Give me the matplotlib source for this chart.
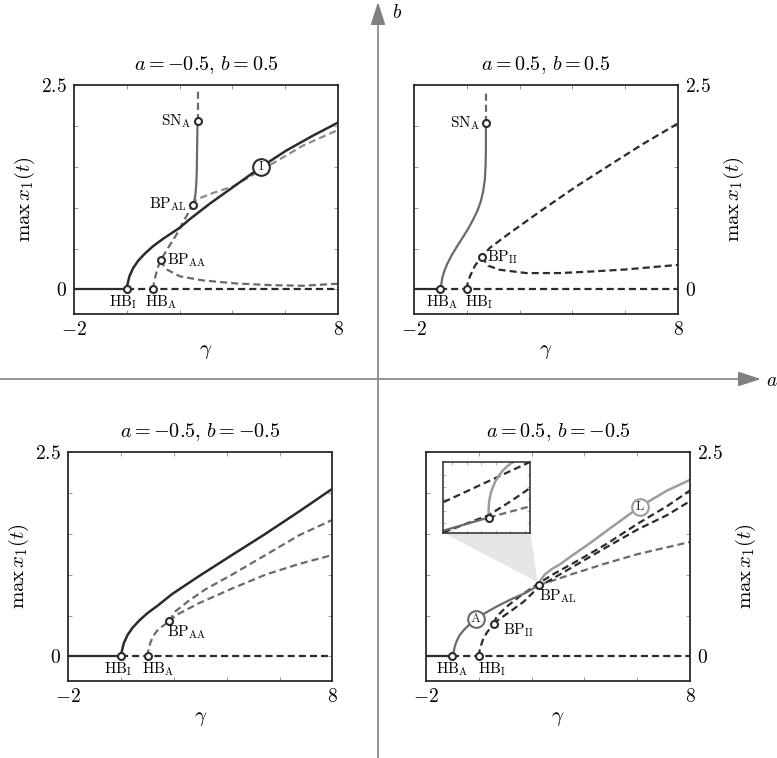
import matplotlib
matplotlib.use("Agg")
import matplotlib.pyplot as plt
from matplotlib.patches import Polygon

plt.rcParams['mathtext.fontset'] = 'cm'
plt.rcParams['font.family'] = 'serif'
plt.rcParams['font.serif'] = ['cmr10', 'DejaVu Serif']
plt.rcParams['axes.unicode_minus'] = False

# ---- data (gamma, max x1) ----
# top left: a=-0.5, b=0.5
tl_eq_solid = [-2.0, 0.0]
tl_eq_dash = [0.0, 8.0]
tl_I_g = [0.0, 0.01, 0.04, 0.10, 0.24, 0.43, 0.69, 1.0, 1.38, 2.01, 2.39, 3.15, 4.15, 5.10, 6.05, 7.05, 8.0]
tl_I_y = [0.0, 0.04, 0.08, 0.16, 0.26, 0.35, 0.44, 0.53, 0.62, 0.755, 0.86, 1.05, 1.28, 1.50, 1.70, 1.88, 2.04]
tl_A_g = [1.0, 1.01, 1.04, 1.10, 1.19, 1.29, 1.57, 1.88, 2.20, 2.49]
tl_A_y = [0.0, 0.04, 0.10, 0.18, 0.28, 0.36, 0.51, 0.67, 0.86, 1.03]
tl_AA_g = [1.29, 1.40, 1.51, 2.01, 2.89, 4.15, 5.41, 6.68, 8.0]
tl_AA_y = [0.36, 0.29, 0.245, 0.16, 0.11, 0.073, 0.053, 0.045, 0.07]
tl_As_g = [2.49, 2.55, 2.60, 2.63, 2.65, 2.66, 2.67, 2.68]
tl_As_y = [1.03, 1.08, 1.16, 1.28, 1.43, 1.63, 1.84, 2.06]
tl_Atop_g = [2.68, 2.68]
tl_Atop_y = [2.06, 2.45]
tl_L_g = [2.49, 2.64, 3.27, 4.03, 5.10, 6.68, 8.0]
tl_L_y = [1.03, 1.10, 1.18, 1.26, 1.46, 1.76, 1.95]
tl_pts = {'HB_I': (0.0, 0.0), 'HB_A': (1.0, 0.0), 'BP_AA': (1.29, 0.36),
          'BP_AL': (2.49, 1.03), 'SN_A': (2.68, 2.06)}

# top right: a=0.5, b=0.5
tr_eq_solid = [-2.0, -1.0]
tr_eq_dash = [-1.0, 8.0]
tr_A_g = [-1.0, -0.966, -0.928, -0.852, -0.739, -0.575, -0.386, -0.159, 0.055, 0.245,
          0.409, 0.535, 0.623, 0.686, 0.711, 0.724, 0.724, 0.724]
tr_A_y = [0.0, 0.061, 0.143, 0.224, 0.314, 0.416, 0.518, 0.633, 0.743, 0.857,
          0.967, 1.082, 1.204, 1.347, 1.51, 1.714, 1.918, 2.033]
tr_Atop_g = [0.724, 0.724]
tr_Atop_y = [2.033, 2.43]
tr_I_g = [0.0, 0.01, 0.04, 0.12, 0.31, 0.56, 0.88, 1.63, 2.89, 4.15, 5.41, 6.68, 8.0]
tr_I_y = [0.0, 0.04, 0.08, 0.16, 0.29, 0.40, 0.51, 0.69, 0.98, 1.26, 1.52, 1.78, 2.03]
tr_II_g = [0.56, 0.81, 1.25, 2.26, 3.52, 4.78, 6.05, 8.0]
tr_II_y = [0.40, 0.29, 0.24, 0.20, 0.20, 0.22, 0.245, 0.30]
tr_pts = {'HB_A': (-1.0, 0.0), 'HB_I': (0.0, 0.0), 'BP_II': (0.56, 0.40), 'SN_A': (0.724, 2.033)}

# bottom left: a=-0.5, b=-0.5
bl_eq_solid = [-2.0, 0.0]
bl_eq_dash = [0.0, 8.0]
bl_I_g = [0.0, 0.01, 0.04, 0.10, 0.24, 0.43, 0.69, 1.0, 1.38, 1.92, 2.94, 4.2, 5.47, 6.73, 8.0]
bl_I_y = [0.0, 0.04, 0.08, 0.16, 0.26, 0.35, 0.44, 0.53, 0.62, 0.76, 0.98, 1.24, 1.50, 1.77, 2.05]
bl_A_g = [1.0, 1.01, 1.04, 1.10, 1.20, 1.35, 1.57, 1.82]
bl_A_y = [0.0, 0.04, 0.09, 0.16, 0.24, 0.31, 0.37, 0.43]
bl_up_g = [1.82, 2.05, 2.56, 3.19, 4.2, 5.47, 6.73, 8.0]
bl_up_y = [0.43, 0.55, 0.68, 0.82, 1.0, 1.24, 1.48, 1.67]
bl_lo_g = [1.82, 2.11, 2.94, 4.2, 5.47, 6.73, 8.0]
bl_lo_y = [0.43, 0.51, 0.65, 0.83, 1.0, 1.13, 1.24]
bl_pts = {'HB_I': (0.0, 0.0), 'HB_A': (1.0, 0.0), 'BP_AA': (1.82, 0.43)}

# bottom right: a=0.5, b=-0.5
br_eq_solid = [-2.0, -1.0]
br_eq_dash = [-1.0, 8.0]
br_A_g = [-1.0, -0.949, -0.911, -0.835, -0.734, -0.582, -0.392, -0.101, 0.241, 0.684, 1.19, 1.76, 2.27]
br_A_y = [0.0, 0.061, 0.122, 0.192, 0.257, 0.318, 0.380, 0.461, 0.531, 0.612, 0.694, 0.776, 0.87]
br_L_g = [2.27, 2.30, 2.35, 2.52, 2.77, 3.09, 3.47, 4.10, 4.86, 6.09, 7.14, 8.0]
br_L_y = [0.87, 0.91, 0.94, 1.01, 1.07, 1.13, 1.22, 1.36, 1.54, 1.83, 2.03, 2.16]
br_Ld_g = [2.27, 3.47, 4.73, 6.0, 8.0]
br_Ld_y = [0.87, 1.0, 1.13, 1.25, 1.40]
br_I_g = [0.0, 0.01, 0.05, 0.15, 0.30, 0.56]
br_I_y = [0.0, 0.04, 0.10, 0.20, 0.29, 0.40]
br_up_g = [0.56, 0.68, 1.06, 1.57, 2.2, 2.84, 3.85, 4.86, 6.0, 7.14, 8.0]
br_up_y = [0.40, 0.49, 0.61, 0.74, 0.88, 1.01, 1.19, 1.38, 1.62, 1.84, 2.03]
br_lo_g = [0.56, 0.75, 1.19, 1.70, 2.27, 2.84, 3.85, 4.86, 6.0, 7.14, 8.0]
br_lo_y = [0.40, 0.45, 0.55, 0.67, 0.85, 0.96, 1.15, 1.34, 1.55, 1.73, 1.90]
br_pts = {'HB_A': (-1.0, 0.0), 'HB_I': (0.0, 0.0), 'BP_II': (0.56, 0.40), 'BP_AL': (2.27, 0.87)}

# inset of bottom right (zoom around BP_AL)
ins_A_g = [2.12, 2.276]
ins_A_y = [0.847, 0.869]
ins_L_g = [2.276, 2.276, 2.278, 2.285, 2.299, 2.322, 2.351, 2.363]
ins_L_y = [0.869, 0.883, 0.897, 0.913, 0.930, 0.947, 0.960, 0.963]
ins_Ld_g = [2.276, 2.42]
ins_Ld_y = [0.869, 0.888]
ins_lo_g = [2.12, 2.201, 2.276, 2.351, 2.42]
ins_lo_y = [0.844, 0.859, 0.873, 0.896, 0.919]
ins_up_g = [2.12, 2.42]
ins_up_y = [0.895, 0.963]

BLACK = '#2b2b2b'
DGRAY = '#6a6a6a'
LGRAY = '#9c9c9c'
AXGRAY = '#808080'
DASH = (0, (3.2, 1.8))
LW = 1.6
PT = 0.72  # points per pixel at dpi 100

fig = plt.figure(figsize=(7.77, 7.58), dpi=100)

# background quadrant axes (pixel coordinates)
bg = fig.add_axes([0, 0, 1, 1], zorder=-1)
bg.set_xlim(0, 777)
bg.set_ylim(758, 0)
bg.axis('off')
ap = dict(arrowstyle='-|>,head_length=1.4,head_width=0.45', color=AXGRAY, lw=1.2,
          shrinkA=0, shrinkB=0)
bg.annotate('', xy=(378, 2), xytext=(378, 758), arrowprops=ap)
bg.annotate('', xy=(761, 379), xytext=(0, 379), arrowprops=ap)
bg.text(392, 13, '$b$', fontsize=14, ha='left', va='center')
bg.text(766, 381, '$a$', fontsize=14, ha='left', va='center')


def setup(ax, title, right=False):
    ax.set_xlim(-2, 8)
    ax.set_ylim(-0.3, 2.5)
    ax.set_xticks([-2, 0, 2, 4, 6, 8])
    ax.set_xticklabels(['$-2$', '', '', '', '', '$8$'], fontsize=14)
    ax.set_yticks([0, 0.5, 1.0, 1.5, 2.0, 2.5])
    ax.set_yticklabels(['$0$', '', '', '', '', '$2.5$'], fontsize=14)
    ax.tick_params(direction='in', length=3, width=0.6, color='#888888',
                   top=True, right=True, left=True, bottom=True, pad=5)
    if right:
        ax.tick_params(labelleft=False, labelright=True)
        ax.yaxis.set_label_position('right')
        ax.set_ylabel(r'$\max\, x_1(t)$', fontsize=15, rotation=90, labelpad=8)
    else:
        ax.set_ylabel(r'$\max\, x_1(t)$', fontsize=15, labelpad=3)
    ax.set_xlabel(r'$\gamma$', fontsize=15, labelpad=3)
    ax.set_title(title, fontsize=14.5, pad=11)
    for s in ax.spines.values():
        s.set_linewidth(1.3)
        s.set_color(BLACK)


def marker(ax, p, color=BLACK):
    ax.plot([p[0]], [p[1]], 'o', ms=5, mfc='white', mec=color, mew=1.5, zorder=6)


def label(ax, p, txt, dx, dy, ha, va):
    # dx, dy in pixels
    ax.annotate(txt, xy=p, xytext=(dx * PT, dy * PT), textcoords='offset points',
                fontsize=11, ha=ha, va=va, zorder=7)


def big(ax, p, txt, color):
    ax.plot([p[0]], [p[1]], 'o', ms=12, mfc='white', mec=color, mew=1.5, zorder=6)
    ax.text(p[0], p[1], txt, fontsize=9.5, ha='center', va='center', color=BLACK, zorder=7)


def name(k):
    a, b = k.split('_')
    return r'$\mathrm{%s}_{\mathrm{%s}}$' % (a, b)


# ---- top left ----
ax = fig.add_axes([0.0952, 0.5858, 0.3398, 0.3021])
setup(ax, r'$a = -0.5,\, b = 0.5$')
ax.plot(tl_eq_solid, [0, 0], color=BLACK, lw=LW)
ax.plot(tl_eq_dash, [0, 0], color=BLACK, lw=LW, ls=DASH)
ax.plot(tl_AA_g, tl_AA_y, color=DGRAY, lw=LW, ls=DASH)
ax.plot(tl_A_g, tl_A_y, color=DGRAY, lw=LW, ls=DASH)
ax.plot(tl_L_g, tl_L_y, color='#8a8a8a', lw=LW, ls=DASH)
ax.plot(tl_As_g, tl_As_y, color=DGRAY, lw=LW)
ax.plot(tl_Atop_g, tl_Atop_y, color=DGRAY, lw=LW, ls=DASH)
ax.plot(tl_I_g, tl_I_y, color=BLACK, lw=LW + 0.2)
for k, p in tl_pts.items():
    marker(ax, p)
big(ax, (5.10, 1.50), r'$\mathrm{I}$', BLACK)
label(ax, tl_pts['SN_A'], name('SN_A'), -6, 0, 'right', 'center')
label(ax, tl_pts['BP_AL'], name('BP_AL'), -6, 1, 'right', 'center')
label(ax, tl_pts['BP_AA'], name('BP_AA'), 6, 0, 'left', 'center')
label(ax, tl_pts['HB_I'], name('HB_I'), -4, -13, 'center', 'center')
label(ax, tl_pts['HB_A'], name('HB_A'), 8, -13, 'center', 'center')

# ---- top right ----
ax = fig.add_axes([0.5328, 0.5858, 0.3398, 0.3021])
setup(ax, r'$a = 0.5,\, b = 0.5$', right=True)
ax.plot(tr_eq_solid, [0, 0], color=BLACK, lw=LW)
ax.plot(tr_eq_dash, [0, 0], color=BLACK, lw=LW, ls=DASH)
ax.plot(tr_II_g, tr_II_y, color=BLACK, lw=LW, ls=DASH)
ax.plot(tr_I_g, tr_I_y, color=BLACK, lw=LW, ls=DASH)
ax.plot(tr_A_g, tr_A_y, color=DGRAY, lw=LW)
ax.plot(tr_Atop_g, tr_Atop_y, color=DGRAY, lw=LW, ls=DASH)
for k, p in tr_pts.items():
    marker(ax, p)
label(ax, tr_pts['SN_A'], name('SN_A'), -6, 0, 'right', 'center')
label(ax, tr_pts['BP_II'], name('BP_II'), 5, 0, 'left', 'center')
label(ax, tr_pts['HB_A'], name('HB_A'), 2, -13, 'center', 'center')
label(ax, tr_pts['HB_I'], name('HB_I'), 12, -13, 'center', 'center')

# ---- bottom left ----
ax = fig.add_axes([0.0879, 0.1016, 0.3398, 0.3021])
setup(ax, r'$a = -0.5,\, b = -0.5$')
ax.plot(bl_eq_solid, [0, 0], color=BLACK, lw=LW)
ax.plot(bl_eq_dash, [0, 0], color=BLACK, lw=LW, ls=DASH)
ax.plot(bl_A_g, bl_A_y, color=DGRAY, lw=LW, ls=DASH)
ax.plot(bl_up_g, bl_up_y, color=DGRAY, lw=LW, ls=DASH)
ax.plot(bl_lo_g, bl_lo_y, color=DGRAY, lw=LW, ls=DASH)
ax.plot(bl_I_g, bl_I_y, color=BLACK, lw=LW + 0.2)
for k, p in bl_pts.items():
    marker(ax, p)
label(ax, bl_pts['BP_AA'], name('BP_AA'), -2, -11, 'left', 'center')
label(ax, bl_pts['HB_I'], name('HB_I'), -3, -13, 'center', 'center')
label(ax, bl_pts['HB_A'], name('HB_A'), 11, -13, 'center', 'center')

# ---- bottom right ----
ax = fig.add_axes([0.5483, 0.1016, 0.3398, 0.3021])
setup(ax, r'$a = 0.5,\, b = -0.5$', right=True)
ax.plot(br_eq_solid, [0, 0], color=BLACK, lw=LW)
ax.plot(br_eq_dash, [0, 0], color=BLACK, lw=LW, ls=DASH)
ax.plot(br_Ld_g, br_Ld_y, color=DGRAY, lw=LW, ls=DASH)
ax.plot(br_I_g, br_I_y, color=BLACK, lw=LW, ls=DASH)
ax.plot(br_lo_g, br_lo_y, color=BLACK, lw=LW, ls=DASH)
ax.plot(br_up_g, br_up_y, color=BLACK, lw=LW, ls=DASH)
ax.plot(br_A_g, br_A_y, color=DGRAY, lw=LW)
ax.plot(br_L_g, br_L_y, color=LGRAY, lw=LW + 0.2)
for k, p in br_pts.items():
    marker(ax, p)
big(ax, (-0.10, 0.461), r'$\mathrm{A}$', DGRAY)
big(ax, (6.09, 1.83), r'$\mathrm{L}$', LGRAY)
label(ax, br_pts['BP_AL'], name('BP_AL'), 0, -11, 'left', 'center')
label(ax, br_pts['BP_II'], name('BP_II'), 9, -6, 'left', 'center')
label(ax, br_pts['HB_A'], name('HB_A'), 0, -13, 'center', 'center')
label(ax, br_pts['HB_I'], name('HB_I'), 13, -13, 'center', 'center')

# inset box placed in data coords of the main axes
x0, y0, w, h = -1.34, 1.51, 3.29, 0.87
ax.add_patch(Polygon([(x0, y0), (x0 + w, y0), (2.23, 0.91)], closed=True,
                     facecolor='#e6e6e6', edgecolor='none', zorder=1))
ins = ax.inset_axes([x0, y0, w, h], transform=ax.transData, zorder=8)
ins.set_xlim(2.12, 2.42)
ins.set_ylim(0.843, 0.963)
ins.set_xticks([2.15, 2.2, 2.25, 2.3, 2.35, 2.4])
ins.set_yticks([0.86, 0.88, 0.90, 0.92, 0.94])
ins.tick_params(direction='in', length=2, width=0.5, color='#999999',
                top=True, right=True, labelbottom=False, labelleft=False)
for s in ins.spines.values():
    s.set_linewidth(1.1)
    s.set_color(BLACK)
ins.plot(ins_Ld_g, ins_Ld_y, color=DGRAY, lw=LW, ls=DASH)
ins.plot(ins_lo_g, ins_lo_y, color=BLACK, lw=LW, ls=DASH)
ins.plot(ins_up_g, ins_up_y, color=BLACK, lw=LW, ls=DASH)
ins.plot(ins_A_g, ins_A_y, color=DGRAY, lw=LW)
ins.plot(ins_L_g, ins_L_y, color=LGRAY, lw=LW + 0.2)
ins.plot([ins_A_g[-1]], [ins_A_y[-1]], 'o', ms=5, mfc='white', mec=BLACK, mew=1.5, zorder=6)

fig.savefig('out.png', dpi=100)
